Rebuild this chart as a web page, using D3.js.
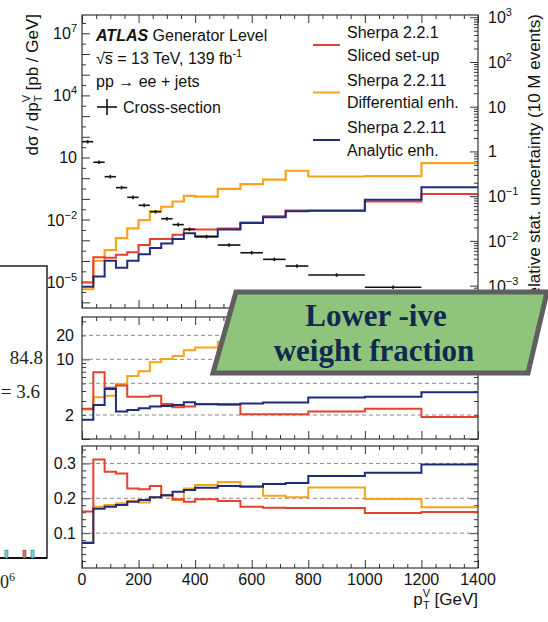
<!DOCTYPE html>
<html><head><meta charset="utf-8">
<script src="https://cdn.jsdelivr.net/npm/d3@7"></script>
<style>
body{margin:0;background:#fff;}
svg{display:block;font-family:"Liberation Sans",Arial,sans-serif;}
</style></head><body>
<svg id="c" width="548" height="622"></svg>
<script>
// pT^V binning [GeV]
const binEdges = [0,40,80,120,160,200,240,280,320,360,400,480,560,640,720,800,1000,1200,1400];

// Cross-section dσ/dpT [pb/GeV]
const crossSection = [58, 5.9, 1.18, 0.35, 0.119, 0.049, 0.024, 0.011, 0.0057, 0.0034, 0.0015,
  5.9e-4, 2.5e-4, 1.2e-4, 5.7e-5, 2.1e-5, 5.4e-6, 1.5e-6];

// Relative stat. uncertainty (10 M events)
const uncSliced = [1.17e-3, 4.3e-3, 4.2e-3, 4.9e-3, 5.6e-3, 8.1e-3, 0.011, 0.011, 0.0138, 0.018, 0.018,
  0.019, 0.0257, 0.0355, 0.048, 0.048, 0.076, 0.112];
const uncDifferential = [8.3e-4, 3.6e-3, 6.2e-3, 0.0115, 0.019, 0.029, 0.046, 0.058, 0.076, 0.102, 0.098,
  0.145, 0.186, 0.234, 0.37, 0.275, 0.28, 0.55];
const uncAnalytic = [9.5e-4, 1.6e-3, 3.6e-3, 2.5e-3, 3.6e-3, 5.0e-3, 6.9e-3, 8.7e-3, 0.011, 0.0148, 0.0126,
  0.018, 0.025, 0.034, 0.046, 0.047, 0.083, 0.158];

// Middle pad
const midSliced = [2.4, 6.9, 4.4, 4.7, 3.4, 3.4, 3.5, 2.75, 2.5, 2.55, 2.75, 2.7, 2.05, 2.05, 2.05, 2.22, 2.39, 1.89];
const midDifferential = [2.35, 3.35, 3.5, 4.9, 6.2, 7.1, 9.2, 10.1, 11, 13, 14.1, 16.6, 18, 20, 24, 22, 22, 26];
const midAnalytic = [1.74, 2.68, 4.25, 2.22, 2.32, 2.44, 2.55, 2.6, 2.68, 2.9, 2.74, 2.74, 2.8, 2.87, 2.87, 3.31, 3.4, 3.85];

// Negative weight fraction
const negSliced = [0.162, 0.311, 0.276, 0.271, 0.228, 0.226, 0.235, 0.209, 0.197, 0.19, 0.197, 0.192, 0.176, 0.173, 0.172, 0.172, 0.158, 0.161];
const negDifferential = [0.074, 0.176, 0.181, 0.186, 0.192, 0.188, 0.203, 0.209, 0.195, 0.228, 0.238, 0.247, 0.235, 0.207, 0.203, 0.231, 0.198, 0.174];
const negAnalytic = [0.072, 0.17, 0.176, 0.181, 0.19, 0.195, 0.203, 0.209, 0.219, 0.224, 0.23, 0.235, 0.233, 0.241, 0.244, 0.264, 0.273, 0.297];

// Tick labels
const xTickLabels = [0, 200, 400, 600, 800, 1000, 1200, 1400];
const leftExpLabels = [7, 4, 1, -2, -5];
const rightExpLabels = [3, 2, 1, 0, -1, -2, -3];
const midTickLabels = [20, 10, 2];
const botTickLabels = [0.1, 0.2, 0.3];

// Legend entries
const legendTitles = [["Sherpa 2.2.1", "Sliced set-up"], ["Sherpa 2.2.11", "Differential enh."], ["Sherpa 2.2.11", "Analytic enh."]];
const colors = ["#e8402f", "#f9a31a", "#202b7c"];

// Inset panel (weights distribution, partly visible)
const insetTexts = ["84.8", "= 3.6"];
const insetBarWeights = [1.15e6, 2.38e6, 3.3e6];
const insetBarCounts = [2.7, 2.7, 2.7];
const insetBarKinds = [0, 1, 0];

const svg = d3.select("#c");
const X0 = 82, X1 = 478;
const x = d3.scaleLinear().domain([0, 1400]).range([X0, X1]);
const P = {top: [15, 308], mid: [317, 439], bot: [446, 568]};
const yTopL = d3.scaleLog().domain([10 ** -6.271, 10 ** 7.884]).range([P.top[1], P.top[0]]);
const yTopR = d3.scaleLog().domain([10 ** -3.5, 10 ** 3.05]).range([P.top[1], P.top[0]]);
const yMid = d3.scaleLog().domain([1, 34]).range([P.mid[1], P.mid[0]]);
const yBot = d3.scaleLinear().domain([0, 0.35]).range([P.bot[1], P.bot[0]]);

const defs = svg.append("defs");
Object.entries(P).forEach(([k, [a, b]]) => {
  defs.append("clipPath").attr("id", "clip-" + k).append("rect")
    .attr("x", X0).attr("y", a).attr("width", X1 - X0).attr("height", b - a);
});

// ---------- ticks ----------
function tickSet(scale, vals, len, side, pos) {
  const ax = {left: d3.axisLeft, right: d3.axisRight, top: d3.axisTop, bottom: d3.axisBottom}[side](scale)
    .tickValues(vals).tickSize(-len).tickFormat("");
  const g = svg.append("g").attr("transform", side === "left" || side === "right" ? `translate(${pos},0)` : `translate(0,${pos})`).call(ax);
  g.select(".domain").remove();
  g.selectAll("line").attr("stroke", "#333").attr("stroke-width", 1);
}
const xMajor = d3.range(0, 1401, 200), xMinor = d3.range(0, 1401, 50).filter(v => v % 200);
Object.values(P).forEach(([a, b]) => {
  tickSet(x, xMajor, 8, "top", a); tickSet(x, xMinor, 4, "top", a);
  tickSet(x, xMajor, 8, "bottom", b); tickSet(x, xMinor, 4, "bottom", b);
});
// top pad left axis
const decL = d3.range(-6, 8).map(e => 10 ** e);
const halfL = d3.range(-6, 8).map(e => 10 ** (e + 0.5)).filter(v => v < 10 ** 7.88);
tickSet(yTopL, decL, 8, "left", X0);
tickSet(yTopL, halfL, 4, "left", X0);
// top pad right axis
const decR = d3.range(-3, 4).map(e => 10 ** e);
const minR = [];
d3.range(-4, 3).forEach(e => d3.range(2, 10).forEach(m => { const v = m * 10 ** e; if (v > 10 ** -3.5 && v < 10 ** 3.05) minR.push(v); }));
tickSet(yTopR, decR, 8, "right", X1);
tickSet(yTopR, minR, 4, "right", X1);
// middle pad
const midMaj = [1, 10], midMin = [2, 3, 4, 5, 6, 7, 8, 9, 20, 30];
["left", "right"].forEach(s => {
  tickSet(yMid, midMaj, 8, s, s === "left" ? X0 : X1);
  tickSet(yMid, midMin, 4, s, s === "left" ? X0 : X1);
});
// bottom pad
const botMaj = [0.1, 0.2, 0.3], botMin = d3.range(0.02, 0.35, 0.02).filter(v => Math.abs(v * 10 - Math.round(v * 10)) > 1e-6);
["left", "right"].forEach(s => {
  tickSet(yBot, botMaj, 8, s, s === "left" ? X0 : X1);
  tickSet(yBot, botMin, 4, s, s === "left" ? X0 : X1);
});

// ---------- grid lines ----------
midTickLabels.concat([5]).forEach(v => {
  svg.append("line").attr("x1", X0).attr("x2", X1).attr("y1", yMid(v)).attr("y2", yMid(v))
    .attr("stroke", "#8a8a8a").attr("stroke-dasharray", "4,3");
});
botTickLabels.forEach(v => {
  svg.append("line").attr("x1", X0).attr("x2", X1).attr("y1", yBot(v)).attr("y2", yBot(v))
    .attr("stroke", "#8a8a8a").attr("stroke-dasharray", "4,3");
});

// ---------- histograms ----------
function stepPath(vals, yScale) {
  const pts = binEdges.map((e, i) => [x(e), yScale(vals[Math.min(i, vals.length - 1)])]);
  return d3.line().curve(d3.curveStepAfter)(pts);
}
function drawHist(panel, vals, yScale, color, w) {
  svg.append("path").attr("d", stepPath(vals, yScale)).attr("fill", "none")
    .attr("stroke", color).attr("stroke-width", w).attr("clip-path", `url(#clip-${panel})`);
}
drawHist("top", uncDifferential, yTopR, colors[1], 2.2);
drawHist("top", uncSliced, yTopR, colors[0], 2);
drawHist("top", uncAnalytic, yTopR, colors[2], 2);
drawHist("mid", midDifferential, yMid, colors[1], 2);
drawHist("mid", midSliced, yMid, colors[0], 2);
drawHist("mid", midAnalytic, yMid, colors[2], 2);
drawHist("bot", negDifferential, yBot, colors[1], 2);
drawHist("bot", negSliced, yBot, colors[0], 2);
drawHist("bot", negAnalytic, yBot, colors[2], 2);

// cross-section points
const xs = svg.append("g").attr("clip-path", "url(#clip-top)");
crossSection.forEach((v, i) => {
  const a = x(binEdges[i]), b = x(binEdges[i + 1]), y = yTopL(v), c = (a + b) / 2;
  xs.append("line").attr("x1", a).attr("x2", b).attr("y1", y).attr("y2", y).attr("stroke", "#111").attr("stroke-width", 1.6);
  xs.append("line").attr("x1", c).attr("x2", c).attr("y1", y - 1.8).attr("y2", y + 1.8).attr("stroke", "#111").attr("stroke-width", 1.6);
});

// frames
Object.values(P).forEach(([a, b]) => {
  svg.append("rect").attr("x", X0).attr("y", a).attr("width", X1 - X0).attr("height", b - a)
    .attr("fill", "none").attr("stroke", "#333").attr("stroke-width", 1.2);
});

// ---------- tick labels ----------
function powLabel(xp, yp, exp, anchor) {
  const t = svg.append("text").attr("x", xp).attr("y", yp).attr("font-size", 16).attr("text-anchor", anchor).attr("fill", "#111");
  if (exp === 0) { t.text("1"); return; }
  if (exp === 1) { t.text("10"); return; }
  t.append("tspan").text("10");
  t.append("tspan").attr("font-size", 11).attr("dy", -7).text(exp < 0 ? "\u2212" + (-exp) : exp);
}
leftExpLabels.forEach(e => powLabel(77, yTopL(10 ** e) + 6, e, "end"));
rightExpLabels.forEach(e => powLabel(488, yTopR(10 ** e) + 6, e, "start"));
midTickLabels.forEach(v => svg.append("text").attr("x", 74).attr("y", yMid(v) + 6).attr("text-anchor", "end")
  .attr("font-size", 16).attr("fill", "#111").text(v));
botTickLabels.forEach(v => svg.append("text").attr("x", 76).attr("y", yBot(v) + 6).attr("text-anchor", "end")
  .attr("font-size", 16).attr("fill", "#111").text(v.toFixed(1)));
xTickLabels.forEach(v => svg.append("text").attr("x", x(v)).attr("y", 585).attr("text-anchor", "middle")
  .attr("font-size", 16).attr("fill", "#111").text(v));

// axis titles
const xt = svg.append("text").attr("x", X1).attr("y", 605).attr("text-anchor", "end").attr("font-size", 17).attr("fill", "#111");
xt.append("tspan").text("p");
xt.append("tspan").attr("font-size", 11).attr("dy", -8).text("V");
xt.append("tspan").attr("font-size", 11).attr("dx", -7).attr("dy", 12).text("T");
xt.append("tspan").attr("dy", -4).text(" [GeV]");

const yt = svg.append("text").attr("transform", "translate(38,14) rotate(-90)").attr("text-anchor", "end").attr("font-size", 17).attr("fill", "#111");
yt.append("tspan").text("d\u03c3 / dp");
yt.append("tspan").attr("font-size", 11).attr("dy", -8).text("V");
yt.append("tspan").attr("font-size", 11).attr("dx", -7).attr("dy", 12).text("T");
yt.append("tspan").attr("dy", -4).text(" [pb / GeV]");

svg.append("text").attr("transform", "translate(540,14) rotate(-90)").attr("text-anchor", "end")
  .attr("font-size", 17).attr("fill", "#111").text("Relative stat. uncertainty (10 M events)");

// ---------- legend ----------
const t1 = svg.append("text").attr("x", 96).attr("y", 41).attr("font-size", 16).attr("fill", "#111");
t1.append("tspan").attr("font-weight", "bold").attr("font-style", "italic").text("ATLAS");
t1.append("tspan").text(" Generator Level");
const t2 = svg.append("text").attr("x", 96).attr("y", 64).attr("font-size", 16).attr("fill", "#111");
t2.append("tspan").text("\u221as = 13 TeV, 139 fb");
t2.append("tspan").attr("font-size", 11).attr("dy", -7).text("-1");
// overline of the square root over "s"
{
  const r = t2.node().getExtentOfChar(0), s = t2.node().getExtentOfChar(1);
  svg.append("line").attr("x1", r.x + r.width - 1).attr("x2", s.x + s.width)
    .attr("y1", r.y + 2.5).attr("y2", r.y + 2.5).attr("stroke", "#111").attr("stroke-width", 1);
}
svg.append("text").attr("x", 96).attr("y", 87).attr("font-size", 16).attr("fill", "#111").text("pp \u2192 ee + jets");
svg.append("line").attr("x1", 97).attr("x2", 117).attr("y1", 107).attr("y2", 107).attr("stroke", "#111").attr("stroke-width", 1.6);
svg.append("line").attr("x1", 107).attr("x2", 107).attr("y1", 99).attr("y2", 115).attr("stroke", "#111").attr("stroke-width", 1.6);
svg.append("text").attr("x", 123).attr("y", 113).attr("font-size", 16).attr("fill", "#111").text("Cross-section");

legendTitles.forEach((lines, i) => {
  const base = 38 + i * 47.5;
  svg.append("line").attr("x1", 313).attr("x2", 340).attr("y1", base + 7).attr("y2", base + 7)
    .attr("stroke", colors[i]).attr("stroke-width", 2);
  lines.forEach((s, j) => svg.append("text").attr("x", 347).attr("y", base + j * 22.5)
    .attr("font-size", 16).attr("fill", "#111").text(s));
});

// ---------- inset panel on the left ----------
const ix = d3.scaleLog().domain([1e6, 1e7]).range([3, 60]);
const iy = d3.scaleLinear().domain([0, 100]).range([558, 266]);
const inset = svg.append("g");
inset.append("rect").attr("x", -10).attr("y", 266).attr("width", 57).attr("height", 292)
  .attr("fill", "none").attr("stroke", "#222").attr("stroke-width", 1.5);
inset.append("line").attr("x1", -10).attr("x2", 47).attr("y1", 558).attr("y2", 558).attr("stroke", "#111").attr("stroke-width", 2);
insetBarWeights.forEach((w, i) => {
  inset.append("rect").attr("x", ix(w) - 1.5).attr("y", iy(insetBarCounts[i])).attr("width", 3)
    .attr("height", iy(0) - iy(insetBarCounts[i]))
    .attr("fill", insetBarKinds[i] ? "#e06b6b" : "#5fe0e8").attr("stroke", "#555").attr("stroke-width", 0.6);
});
inset.append("text").attr("x", 43).attr("y", 364).attr("text-anchor", "end").attr("font-family", "Liberation Serif, serif")
  .attr("font-size", 19).attr("fill", "#222").text(insetTexts[0]);
inset.append("text").attr("x", 40).attr("y", 398).attr("text-anchor", "end").attr("font-family", "Liberation Serif, serif")
  .attr("font-size", 19).attr("fill", "#222").text(insetTexts[1]);
const il = inset.append("text").attr("x", ix(1e6)).attr("y", 588).attr("text-anchor", "middle")
  .attr("font-family", "Liberation Serif, serif").attr("font-size", 18).attr("fill", "#222");
il.append("tspan").text("10");
il.append("tspan").attr("font-size", 12).attr("dy", -7).text("6");

// ---------- callout ----------
svg.append("polygon").attr("points", "236,292 547,292 528,373 213,373")
  .attr("fill", "#8fc47c").attr("stroke", "#5f5f5f").attr("stroke-width", 5).attr("stroke-linejoin", "miter");
const ct = svg.append("text").attr("text-anchor", "middle").attr("font-family", "Liberation Serif, serif")
  .attr("font-weight", "bold").attr("font-size", 31).attr("fill", "#10294d");
ct.append("tspan").attr("x", 376).attr("y", 326).text("Lower -ive");
ct.append("tspan").attr("x", 374).attr("y", 361).text("weight fraction");
</script>
</body></html>
